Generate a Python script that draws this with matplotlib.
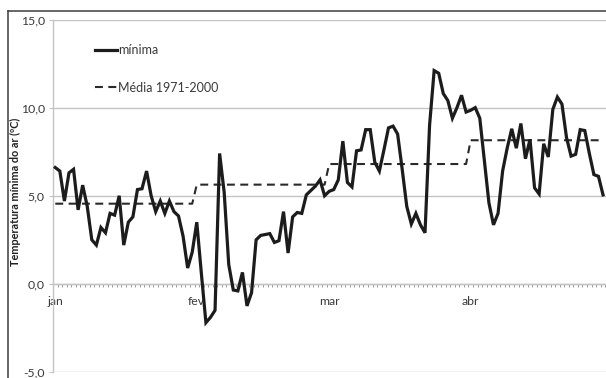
import numpy as np
import pandas as pd
import matplotlib
matplotlib.use("Agg")
import matplotlib.pyplot as plt
from matplotlib.lines import Line2D

# Daily minimum air temperature (ºC), 2012
jan_min = [6.6, 6.4, 4.7, 6.3, 6.5, 4.2, 5.6, 4.4, 2.5, 2.2, 3.2, 2.9, 4.0, 3.9, 5.0, 2.2,
           3.5, 3.8, 5.35, 5.4, 6.4, 5.0, 4.1, 4.7, 4.0, 4.7, 4.1, 3.85, 2.7, 0.9, 1.8]
fev_min = [3.5, 0.6, -2.2, -1.9, -1.5, 7.4, 5.2, 1.1, -0.35, -0.4, 0.65, -1.25, -0.5, 2.5,
           2.75, 2.8, 2.85, 2.35, 2.45, 4.1, 1.75, 3.8, 4.05, 4.0, 5.05, 5.3, 5.55, 5.9, 5.0]
mar_min = [5.25, 5.35, 5.9, 8.1, 5.75, 5.5, 7.55, 7.6, 8.75, 8.75, 6.9, 6.4, 7.6, 8.85, 8.95,
           8.5, 6.5, 4.4, 3.4, 4.0, 3.35, 2.9, 9.0, 12.1, 11.95, 10.8, 10.4, 9.4, 10.0, 10.7, 9.75]
abr_min = [9.85, 10.0, 9.4, 7.0, 4.6, 3.35, 4.0, 6.4, 7.7, 8.8, 7.7, 9.1, 7.1, 8.2, 5.45,
           5.1, 7.95, 7.2, 9.9, 10.6, 10.2, 8.3, 7.25, 7.35, 8.75, 8.7, 7.4, 6.2, 6.1, 5.05]

# Monthly climatological normal of the minimum temperature, 1971-2000
month_labels = ["jan", "fev", "mar", "abr"]
normal_1971_2000 = [4.55, 5.63, 6.8, 8.15]

monthly = [jan_min, fev_min, mar_min, abr_min]
dates = pd.date_range("2012-01-01", "2012-04-30", freq="D")
tmin = np.concatenate([np.asarray(m, dtype=float) for m in monthly])
normal = np.concatenate([np.full(len(m), v) for m, v in zip(monthly, normal_1971_2000)])
x = (dates - dates[0]).days.values.astype(float)
month_starts = np.cumsum([0] + [len(m) for m in monthly[:-1]])

W, H = 606, 378
fig = plt.figure(figsize=(W / 100, H / 100), dpi=100)
plt.rcParams["font.family"] = ["Lato", "DejaVu Sans"]

left_px, right_px, top_px, bottom_px = 53, 606, 19.5, 372
ax = fig.add_axes([left_px / W, 1 - bottom_px / H,
                   (right_px - left_px) / W, (bottom_px - top_px) / H])

grid_col = "#c4c4c4"
text_col = "#3a3a3a"
fs = 8.8

l1, = ax.plot(x, tmin, color="#1c1c1c", lw=2.3, solid_joinstyle="miter",
              label="mínima", zorder=3)
l2, = ax.plot(x, normal, color="#2a2a2a", lw=1.5, dashes=(3.8, 2.6),
              label="Média 1971-2000", zorder=2)

ax.set_xlim(-0.45, 120.65)
ax.set_ylim(-5, 15)
ax.set_yticks([-5, 0, 5, 10, 15])
ax.set_yticklabels([f"{v:.1f}".replace(".", ",") for v in [-5, 0, 5, 10, 15]],
                   fontsize=fs, color=text_col)
ax.yaxis.grid(True, color=grid_col, lw=1.0)
ax.set_axisbelow(True)
ax.tick_params(axis="y", length=3, width=0.8, color=grid_col, pad=3)

for s in ["top", "right"]:
    ax.spines[s].set_visible(False)
ax.spines["left"].set_color(grid_col)
ax.spines["left"].set_linewidth(1.0)
ax.spines["bottom"].set_position(("data", 0))
ax.spines["bottom"].set_color(grid_col)
ax.spines["bottom"].set_linewidth(1.0)

ax.set_xticks(month_starts)
ax.set_xticklabels(month_labels, fontsize=fs, color=text_col)
ax.set_xticks(np.arange(-0.5, 121, 1.0), minor=True)
ax.tick_params(axis="x", which="major", length=0, pad=9)
ax.tick_params(axis="x", which="minor", length=2.5, width=0.7, color="#9a9a9a",
               direction="out")

fig.text(15 / W, 1 - 191.5 / H, "Temperatura mínima do ar (ºC)", rotation=90,
         ha="center", va="center", fontsize=7.8, fontweight="bold", color="#202020")

ax.legend(handles=[l1, l2], loc="upper left",
          bbox_to_anchor=(95 / W, 1 - 44 / H), bbox_transform=fig.transFigure,
          frameon=False, fontsize=9, handlelength=1.75, handletextpad=0.1,
          labelspacing=2.05, borderpad=0, borderaxespad=0,
          labelcolor=text_col)

# Chart-area border (top and left edges)
border_col = "#3c3c3c"
fig.add_artist(Line2D([7.5 / W, 1.0], [1 - 10.5 / H, 1 - 10.5 / H],
                      transform=fig.transFigure, color=border_col, lw=1.1))
fig.add_artist(Line2D([7.5 / W, 7.5 / W], [0.0, 1 - 10.5 / H],
                      transform=fig.transFigure, color=border_col, lw=1.1))

fig.savefig("out.png", dpi=100)
